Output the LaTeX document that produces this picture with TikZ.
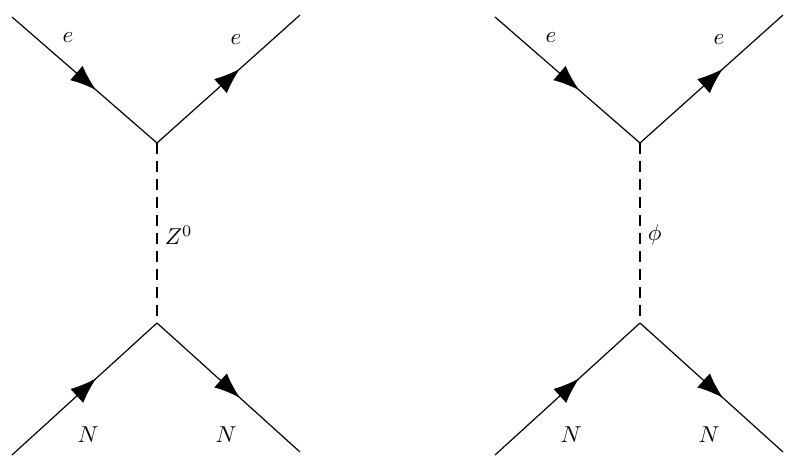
\documentclass[tikz,border=0pt]{standalone}
\usetikzlibrary{arrows.meta,decorations.markings}
\begin{document}
\begin{tikzpicture}[x=1pt,y=-1pt,
  fermion/.style={line width=1.2pt,postaction={decorate},decoration={markings,mark=at position 0.58 with {\arrow{Latex[length=26pt,width=19pt]}}}},
  scalar/.style={line width=1.3pt,dash pattern=on 11pt off 7pt},
  lbl/.style={scale=2.3}]
\useasboundingbox (0,0) rectangle (795,468);
\foreach \o/\n/\lab in {0/L/{Z^0},483/R/{\phi}}{
  \coordinate (\n ti) at (12+\o,17);
  \coordinate (\n to) at (300+\o,15);
  \coordinate (\n bi) at (12+\o,455);
  \coordinate (\n bo) at (300+\o,452);
  \coordinate (\n vt) at (157+\o,143);
  \coordinate (\n vb) at (157+\o,323);
  \draw[fermion] (\n ti) -- (\n vt);
  \draw[fermion] (\n vt) -- (\n to);
  \draw[fermion] (\n bi) -- (\n vb);
  \draw[fermion] (\n vb) -- (\n bo);
  \draw[scalar] (\n vt) -- (\n vb);
  \node[lbl] (\n e1) at (68+\o,38) {$e$};
  \node[lbl] (\n e2) at (236+\o,40) {$e$};
  \node[lbl] (\n n1) at (88+\o,435) {$N$};
  \node[lbl] (\n n2) at (226+\o,435) {$N$};
  \node[lbl,anchor=west,inner sep=1pt] (\n lab) at (162+\o,235) {$\lab$};
}
\end{tikzpicture}
\end{document}
